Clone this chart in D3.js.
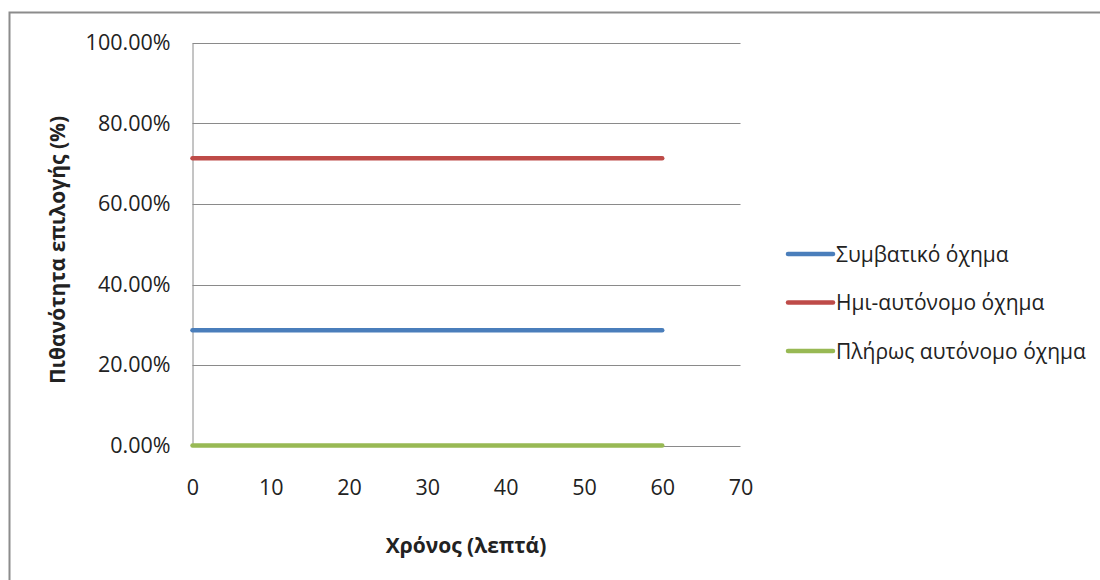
<!DOCTYPE html>
<html>
<head>
<meta charset="utf-8">
<script src="https://cdn.jsdelivr.net/npm/d3@7"></script>
<style>
  body { margin: 0; background: #fff; }
  svg text { font-family: "Open Sans", "Noto Sans", sans-serif; fill: #222; }
</style>
</head>
<body>
<svg id="chart" width="1100" height="580"></svg>
<script>
// minutes on the x axis
var minutes = [0, 10, 20, 30, 40, 50, 60];

// choice probability per vehicle type (share, 0..1)
var conventional = [0.2865, 0.2865, 0.2865, 0.2865, 0.2865, 0.2865, 0.2865];
var semiAuto = [0.7135, 0.7135, 0.7135, 0.7135, 0.7135, 0.7135, 0.7135];
var fullAuto = [0, 0, 0, 0, 0, 0, 0];

var seriesNames = ["Συμβατικό όχημα", "Ημι-αυτόνομο όχημα", "Πλήρως αυτόνομο όχημα"];
var seriesColors = ["#4a7ebb", "#be4b48", "#98b954"];

var xTicks = [0, 10, 20, 30, 40, 50, 60, 70];
var yTicks = [0, 0.2, 0.4, 0.6, 0.8, 1.0];

var svg = d3.select("#chart");

// outer chart frame (runs off the right and bottom of the picture)
svg.append("rect")
  .attr("x", 9.5).attr("y", 12.5)
  .attr("width", 1200).attr("height", 700)
  .attr("fill", "none")
  .attr("stroke", "#8c8c8c")
  .attr("stroke-width", 2);

var x = d3.scaleLinear().domain([0, 70]).range([192.5, 740.5]);
var y = d3.scaleLinear().domain([0, 1]).range([445.5, 43]);

// horizontal gridlines
svg.append("g")
  .selectAll("line")
  .data(yTicks)
  .join("line")
  .attr("x1", x(0)).attr("x2", x(70))
  .attr("y1", d => Math.round(y(d)) + 0.5)
  .attr("y2", d => Math.round(y(d)) + 0.5)
  .attr("stroke", "#8a8a8a")
  .attr("stroke-width", 1);

// y axis
var yAxis = svg.append("g")
  .attr("transform", "translate(" + x(0) + ",0)")
  .call(d3.axisLeft(y).tickValues(yTicks).tickSize(0).tickPadding(22)
    .tickFormat(d => (d * 100).toFixed(2) + "%"));
yAxis.select(".domain").attr("stroke", "#8a8a8a");
yAxis.selectAll("text")
  .style("font-size", "21.5px")
  .attr("fill", "#222");

// x axis
var xAxis = svg.append("g")
  .attr("transform", "translate(0," + y(0) + ")")
  .call(d3.axisBottom(x).tickValues(xTicks).tickSize(0).tickPadding(34));
xAxis.select(".domain").remove();
xAxis.selectAll("text")
  .style("font-size", "21.5px")
  .attr("fill", "#222");

// series lines
var allSeries = [conventional, semiAuto, fullAuto];
var line = d3.line()
  .x((d, i) => x(minutes[i]))
  .y(d => y(d));

svg.append("g")
  .selectAll("path")
  .data(allSeries)
  .join("path")
  .attr("d", d => line(d))
  .attr("fill", "none")
  .attr("stroke", (d, i) => seriesColors[i])
  .attr("stroke-width", 4.5)
  .attr("stroke-linecap", "round");

// axis titles
svg.append("text")
  .attr("x", 466).attr("y", 553)
  .attr("text-anchor", "middle")
  .style("font-size", "21px")
  .style("font-weight", "bold")
  .text("Χρόνος (λεπτά)");

svg.append("text")
  .attr("transform", "translate(65,250) rotate(-90)")
  .attr("text-anchor", "middle")
  .style("font-size", "21px")
  .style("font-weight", "bold")
  .text("Πιθανότητα επιλογής (%)");

// legend
var legend = svg.append("g")
  .selectAll("g")
  .data(seriesNames)
  .join("g")
  .attr("transform", (d, i) => "translate(788," + (254 + i * 48.5) + ")");

legend.append("line")
  .attr("x1", 0).attr("x2", 45)
  .attr("stroke", (d, i) => seriesColors[i])
  .attr("stroke-width", 4.5)
  .attr("stroke-linecap", "round");

legend.append("text")
  .attr("x", 48).attr("y", 7.5)
  .style("font-size", "21px")
  .text(d => d);
</script>
</body>
</html>
